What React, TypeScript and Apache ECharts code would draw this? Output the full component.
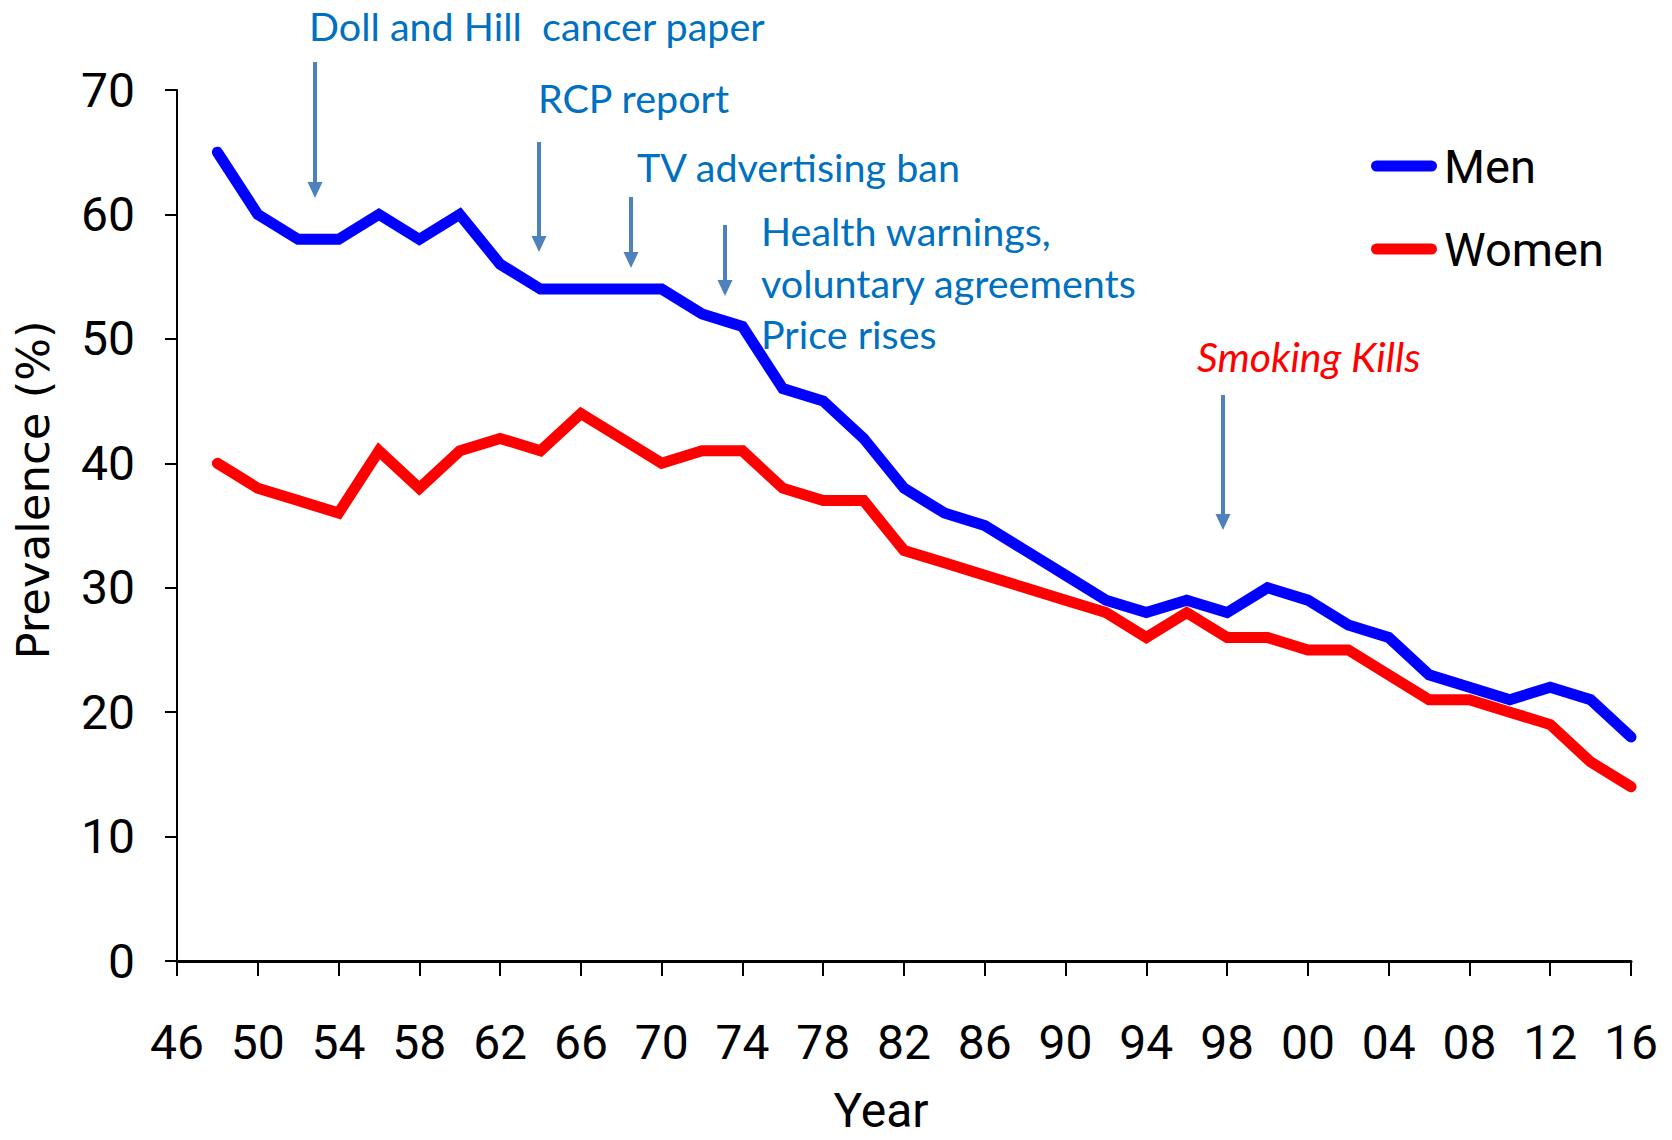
import React, { useEffect, useRef } from 'react';
import * as echarts from 'echarts';

// Survey years (category axis). 1946 is the axis origin (no data); 1998 appears twice (unweighted / weighted).
const years = [
  '1946', '1948', '1950', '1952', '1954', '1956', '1958', '1960', '1962', '1964',
  '1966', '1968', '1970', '1972', '1974', '1976', '1978', '1980', '1982', '1984',
  '1986', '1988', '1990', '1992', '1994', '1996', '1998', '1998w', '2000', '2002',
  '2004', '2006', '2008', '2010', '2012', '2014', '2016',
];

// Prevalence (%) from 1948 onward
const menPrevalence = [
  65, 60, 58, 58, 60, 58, 60, 56, 54, 54, 54, 54, 52, 51,
  46, 45, 42, 38, 36, 35, 33, 31, 29, 28, 29, 28,
  30, 29, 27, 26, 23, 22, 21, 22, 21, 18,
];
const womenPrevalence = [
  40, 38, 37, 36, 41, 38, 41, 42, 41, 44, 42, 40, 41, 41,
  38, 37, 37, 33, 32, 31, 30, 29, 28, 26, 28, 26,
  26, 25, 25, 23, 21, 21, 20, 19, 16, 14,
];

const seriesNames = ['Men', 'Women'];
const yMin = 0;
const yMax = 70;
const yStep = 10;

const NARROW = 'Roboto, "Liberation Sans", sans-serif';
const ANNOT = 'Lato, "Open Sans", sans-serif';
const TEXT_BLUE = '#0070C0';
const ARROW_BLUE = '#4F81BD';

// Annotation layout (pixels)
const textNotes = [
  { text: 'Doll and Hill  cancer paper', x: 309, y: 25, color: TEXT_BLUE, italic: false, size: 39.5 },
  { text: 'RCP report', x: 538, y: 97, color: TEXT_BLUE, italic: false, size: 39.5 },
  { text: 'TV advertising ban', x: 637, y: 166, color: TEXT_BLUE, italic: false, size: 39.5 },
  { text: 'Health warnings,', x: 761, y: 230, color: TEXT_BLUE, italic: false, size: 39.5 },
  { text: 'voluntary agreements', x: 761, y: 282, color: TEXT_BLUE, italic: false, size: 39.5 },
  { text: 'Price rises', x: 761, y: 333, color: TEXT_BLUE, italic: false, size: 39.5 },
  { text: 'Smoking Kills', x: 1197, y: 356, color: '#FF0000', italic: true, size: 41 },
];
const arrows = [
  { x: 315, y1: 62, y2: 198 },
  { x: 539, y1: 142, y2: 252 },
  { x: 631, y1: 197, y2: 268 },
  { x: 725, y1: 225, y2: 296 },
  { x: 1223, y1: 395, y2: 530 },
];

function buildGraphics() {
  const els: any[] = [];
  textNotes.forEach((t) => {
    els.push({
      type: 'text',
      x: t.x,
      y: t.y,
      silent: true,
      style: {
        text: t.text,
        fill: t.color,
        fontSize: t.size,
        fontFamily: ANNOT,
        fontStyle: t.italic ? 'italic' : 'normal',
        align: 'left',
        verticalAlign: 'middle',
      },
    });
  });
  arrows.forEach((a) => {
    const headH = 16;
    const headW = 7.5;
    els.push({
      type: 'line',
      silent: true,
      shape: { x1: a.x, y1: a.y1, x2: a.x, y2: a.y2 - headH + 1 },
      style: { stroke: ARROW_BLUE, lineWidth: 4 },
    });
    els.push({
      type: 'polygon',
      silent: true,
      shape: {
        points: [
          [a.x - headW, a.y2 - headH],
          [a.x + headW, a.y2 - headH],
          [a.x, a.y2],
        ],
      },
      style: { fill: ARROW_BLUE },
    });
  });
  els.push({
    type: 'text',
    x: 33,
    y: 490,
    rotation: Math.PI / 2,
    silent: true,
    style: {
      text: 'Prevalence (%)',
      fill: '#000',
      fontSize: 45,
      fontFamily: '"DejaVu Sans", sans-serif',
      align: 'center',
      verticalAlign: 'middle',
    },
  });
  return els;
}

export default function App() {
  const ref = useRef<HTMLDivElement>(null);
  useEffect(() => {
    if (!ref.current) return;
    const chart = echarts.init(ref.current, null, { renderer: 'svg' });
    const option: any = {
      animation: false,
      backgroundColor: '#ffffff',
      color: ['#0000FF', '#FF0000'],
      grid: { left: 177, right: 41, top: 90, bottom: 179, containLabel: false, outerBoundsMode: 'none' },
      legend: {
        orient: 'vertical',
        left: 1371,
        top: 140,
        padding: 0,
        itemWidth: 66,
        itemHeight: 11,
        itemGap: 31,
        icon: 'path://M5.5,0 L60.5,0 A5.5,5.5 0 0 1 60.5,11 L5.5,11 A5.5,5.5 0 0 1 5.5,0 Z',
        itemStyle: { borderWidth: 0 },
        textStyle: { fontFamily: NARROW, fontSize: 47, color: '#000', lineHeight: 52, padding: [0, 0, 0, 2] },
        data: seriesNames,
      },
      xAxis: {
        type: 'category',
        data: years,
        boundaryGap: false,
        name: 'Year',
        nameLocation: 'middle',
        nameGap: 123,
        nameTextStyle: {
          fontFamily: NARROW, fontSize: 48, color: '#000', lineHeight: 52,
          verticalAlign: 'top', padding: [0, 46, 0, 0],
        },
        axisLine: { show: true, lineStyle: { color: '#000', width: 3 } },
        axisTick: { show: true, interval: 1, length: 15, lineStyle: { color: '#000', width: 2 } },
        axisLabel: {
          interval: 1,
          margin: 55,
          fontFamily: NARROW,
          fontSize: 48,
          lineHeight: 52,
          color: '#000',
          formatter: (v: string) => v.slice(2, 4),
        },
        splitLine: { show: false },
      },
      yAxis: {
        type: 'value',
        min: yMin,
        max: yMax,
        interval: yStep,
        axisLine: { show: true, lineStyle: { color: '#000', width: 2 } },
        axisTick: { show: true, length: 12, lineStyle: { color: '#000', width: 2 } },
        axisLabel: { margin: 42, fontFamily: NARROW, fontSize: 48, color: '#000' },
        splitLine: { show: false },
      },
      series: [
        {
          name: seriesNames[0],
          type: 'line',
          data: ['-', ...menPrevalence],
          symbol: 'none',
          lineStyle: { color: '#0000FF', width: 11, cap: 'round', join: 'miter' },
          itemStyle: { color: '#0000FF' },
        },
        {
          name: seriesNames[1],
          type: 'line',
          data: ['-', ...womenPrevalence],
          symbol: 'none',
          lineStyle: { color: '#FF0000', width: 11, cap: 'round', join: 'miter' },
          itemStyle: { color: '#FF0000' },
        },
      ],
      graphic: buildGraphics(),
    };
    chart.setOption(option);
    return () => chart.dispose();
  }, []);
  return (
    <div
      ref={ref}
      style={{ position: 'fixed', left: 0, top: 0, width: 1672, height: 1140, background: '#fff' }}
    />
  );
}
